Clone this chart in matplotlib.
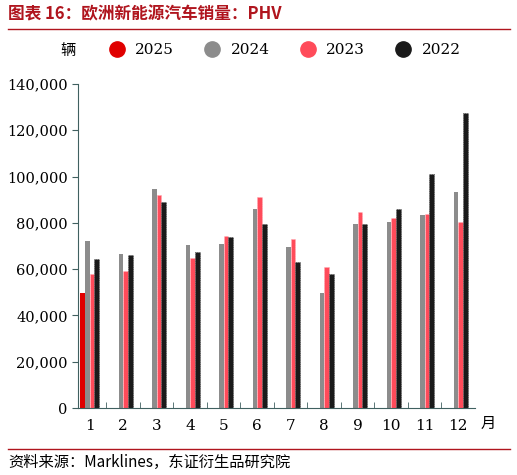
import matplotlib
matplotlib.use("Agg")
import matplotlib.pyplot as plt
import numpy as np
from matplotlib.ticker import FuncFormatter, FixedLocator
from matplotlib.lines import Line2D

plt.rcParams['font.family'] = ['Noto Sans CJK SC', 'DejaVu Sans']

months = [str(i) for i in range(1, 13)]
v2025 = [49500]
v2024 = [72000, 66500, 94500, 70500, 71000, 86000, 69500, 49500, 79500, 80500, 83500, 93500]
v2023 = [58000, 59000, 92000, 65000, 74500, 91000, 73000, 61000, 84500, 82000, 84000, 80500]
v2022 = [64500, 66000, 89000, 67500, 74000, 79500, 63000, 58000, 79500, 86000, 101000, 127500]

fig = plt.figure(figsize=(5.17, 4.75), dpi=100)
ax = fig.add_axes([78/517, 1-408/475, (475-78)/517, (408-84)/475])
x = np.arange(1, 13)
w = 0.14
ax.bar(x[:1] - 1.5*w, v2025, w, color='#e00000', label='2025')
ax.bar(x - 0.5*w, v2024, w, color='#8c8c8c', label='2024')
ax.bar(x + 0.5*w, v2023, w, color='#ff4b5a', edgecolor='#ffb0b8', linestyle=':', linewidth=0.6, label='2023')
ax.bar(x + 1.5*w, v2022, w, color='#1a1a1a', edgecolor='#555555', linestyle=':', linewidth=0.6, label='2022')

ax.set_xlim(0.65, 12.5)
ax.set_ylim(0, 140000)
ax.set_yticks(range(0, 140001, 20000))
ax.yaxis.set_major_formatter(FuncFormatter(lambda v, p: f"{int(v):,}"))
ax.set_xticks(x)
ax.set_xticklabels(months, fontfamily='DejaVu Serif')
ax.xaxis.set_minor_locator(FixedLocator(np.arange(1.5, 12.5, 1)))
ax.tick_params(axis='x', which='major', length=0, pad=8, labelsize=11)
ax.tick_params(axis='x', which='minor', length=4, direction='in', color='#406060')
ax.tick_params(axis='y', length=4, direction='out', color='#406060', labelsize=10.5)
for t in ax.get_yticklabels():
    t.set_fontfamily('DejaVu Serif')
for s in ['top', 'right']:
    ax.spines[s].set_visible(False)
for s in ['left', 'bottom']:
    ax.spines[s].set_color('#406060')
ax.text(12.9, -3000, '月', ha='center', va='top', fontsize=11)

fig.text(68/517, 1-50/475, '辆', ha='center', va='center', fontsize=11)
labels = ['2025', '2024', '2023', '2022']
cols = ['#e00000', '#8c8c8c', '#ff4b5a', '#1a1a1a']
hs = [Line2D([], [], marker='o', linestyle='', markersize=11, color=c) for c in cols]
fig.legend(hs, labels, loc='center left', bbox_to_anchor=(88/517, 1-50/475), ncol=4,
           frameon=False, fontsize=11, handletextpad=0.2, columnspacing=1.5,
           prop={'family': 'DejaVu Serif', 'size': 11})

fig.text(8/517, 1-14/475, '图表 16：欧洲新能源汽车销量：PHV', ha='left', va='center',
         fontsize=12, fontweight='bold', color='#b0151e')
fig.add_artist(Line2D([8/517, 510/517], [1-29/475]*2, color='#b0151e', linewidth=1))
fig.add_artist(Line2D([8/517, 510/517], [1-449/475]*2, color='#b0151e', linewidth=1))
fig.text(8/517, 1-462/475, '资料来源：Marklines，东证衍生品研究院', ha='left', va='center', fontsize=11)

fig.savefig('out.png', dpi=100)
